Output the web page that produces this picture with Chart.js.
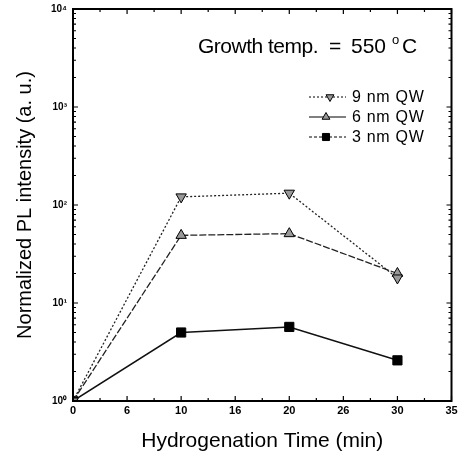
<!DOCTYPE html>
<html><head><meta charset="utf-8">
<script src="https://cdn.jsdelivr.net/npm/chart.js@4"></script>
<style>html,body{margin:0;padding:0;background:#fff}#wrap{width:459px;height:459px}</style>
</head><body><div id="wrap"><canvas id="c" width="459" height="459"></canvas></div>
<script>
const times = [0, 10, 20, 30];
const qw9 = [1, 121, 132, 18];
const qw6 = [1, 49, 51, 20];
const qw3 = [1, 5.0, 5.7, 2.6];
const seriesNames = ["9 nm QW", "6 nm QW", "3 nm QW"];
const xTickValues = [0, 5, 10, 15, 20, 25, 30, 35];
const xTickLabels = ["0", "6", "10", "16", "20", "26", "30", "35"];
const yTickValues = [1, 10, 100, 1000, 10000];
const yTickLabels = ["10\u2070", "10\u00B9", "10\u00B2", "10\u00B3", "10\u2074"];
const annotationParts = ["Growth temp.", "=", "550", "o", "C"];
const xTitle = "Hydrogenation Time (min)";
const yTitle = "Normalized PL intensity (a. u.)";

const pts = arr => arr.map((v, i) => ({x: times[i], y: v}));

const frame = {
  id: 'frame',
  afterDatasetsDraw(chart) {
    const {ctx, chartArea: a, scales: {x, y}} = chart;
    ctx.save();
    ctx.strokeStyle = '#000';
    ctx.lineWidth = 2;
    ctx.strokeRect(a.left, a.top, a.right - a.left, a.bottom - a.top);
    ctx.lineWidth = 1.2;
    ctx.beginPath();
    for (let v = 0; v <= 35; v += 2.5) {
      const px = x.getPixelForValue(v);
      const L = (v % 5 === 0) ? 5 : 3;
      ctx.moveTo(px, a.bottom); ctx.lineTo(px, a.bottom - L);
      ctx.moveTo(px, a.top); ctx.lineTo(px, a.top + L);
    }
    for (let d = 1; d <= 1000; d *= 10) {
      for (let m = 1; m <= 10; m++) {
        const py = y.getPixelForValue(d * m);
        const L = (m === 1 || m === 10) ? 5 : 3;
        ctx.moveTo(a.left, py); ctx.lineTo(a.left + L, py);
        ctx.moveTo(a.right, py); ctx.lineTo(a.right - L, py);
      }
    }
    ctx.stroke();
    // annotation
    ctx.fillStyle = '#000';
    ctx.textBaseline = 'alphabetic';
    const big = '21px "Liberation Sans", Arial, sans-serif';
    const ty = 53;
    ctx.font = big;
    ctx.letterSpacing = '-0.5px';
    ctx.fillText(annotationParts[0], 198, ty);
    ctx.letterSpacing = '0px';
    ctx.fillText(annotationParts[1], 329, ty);
    ctx.fillText(annotationParts[2], 351, ty);
    ctx.font = '13px "Liberation Sans", Arial, sans-serif';
    ctx.fillText(annotationParts[3], 392, ty - 9);
    ctx.font = big;
    ctx.fillText(annotationParts[4], 402, ty);
    // legend
    const rows = [97, 117, 137];
    const markX = [330, 326, 326];
    ctx.font = '16px "Liberation Sans", Arial, sans-serif';
    ctx.letterSpacing = '0.7px';
    ctx.textBaseline = 'middle';
    chart.data.datasets.forEach((ds, i) => {
      const yy = rows[i];
      ctx.save();
      ctx.strokeStyle = '#000';
      ctx.lineWidth = 1;
      ctx.setLineDash(ds.legendDash);
      ctx.beginPath(); ctx.moveTo(309, yy); ctx.lineTo(346, yy); ctx.stroke();
      ctx.restore();
      ctx.save();
      ctx.fillStyle = ds.pointBackgroundColor;
      ctx.strokeStyle = '#000';
      ctx.lineWidth = 1;
      Chart.helpers.drawPoint(ctx, {pointStyle: ds.pointStyle, radius: ds.pointRadius - 1.5, rotation: ds.pointRotation || 0, borderWidth: 1}, markX[i], yy);
      ctx.restore();
      ctx.fillStyle = '#000';
      ctx.fillText(ds.label, 352, yy + 1);
    });
    ctx.restore();
  }
};

new Chart(document.getElementById('c'), {
  type: 'line',
  data: {
    datasets: [
      {label: seriesNames[0], data: pts(qw9), borderColor: '#222', borderWidth: 1.3, borderDash: [2, 2], legendDash: [2, 2],
       pointStyle: 'triangle', pointRotation: 180, pointRadius: 6, pointBackgroundColor: '#999', pointBorderColor: '#000', pointBorderWidth: 1},
      {label: seriesNames[1], data: pts(qw6), borderColor: '#222', borderWidth: 1.3, borderDash: [7, 2], legendDash: [],
       pointStyle: 'triangle', pointRadius: 6, pointBackgroundColor: '#999', pointBorderColor: '#000', pointBorderWidth: 1},
      {label: seriesNames[2], data: pts(qw3), borderColor: '#111', borderWidth: 1.5, borderDash: [], legendDash: [3, 2],
       pointStyle: 'rect', pointRadius: 6.5, pointBackgroundColor: '#000', pointBorderColor: '#000', pointBorderWidth: 1}
    ]
  },
  options: {
    responsive: false,
    animation: false,
    events: [],
    layout: {padding: {left: 0, right: 7, top: 9, bottom: 0}},
    plugins: {legend: {display: false}, tooltip: {enabled: false}},
    scales: {
      x: {
        type: 'linear', min: 0, max: 35,
        afterBuildTicks: s => { s.ticks = xTickValues.map(v => ({value: v})); },
        afterFit: s => { s.height = 58; s.paddingLeft = 0; s.paddingRight = 0; },
        grid: {display: true, drawOnChartArea: false, drawTicks: false},
        border: {display: false},
        ticks: {padding: 3, color: '#000', font: {family: '"Liberation Sans Narrow", "Liberation Sans", Arial', size: 11, weight: 'bold'},
                callback: (v, i) => xTickLabels[i]},
        title: {display: true, text: xTitle, color: '#000', font: {family: '"Liberation Sans", Arial', size: 21}, padding: {top: 0, bottom: 5}}
      },
      y: {
        type: 'logarithmic', min: 1, max: 10000,
        afterBuildTicks: s => { s.ticks = yTickValues.map(v => ({value: v})); },
        afterFit: s => { s.width = 73; s.paddingTop = 0; s.paddingBottom = 0; },
        grid: {display: true, drawOnChartArea: false, drawTicks: false},
        border: {display: false},
        ticks: {padding: 6, color: '#000', font: {family: '"Liberation Sans Narrow", "Liberation Sans", Arial', size: 10, weight: 'bold'},
                callback: (v, i) => yTickLabels[i]},
        title: {display: true, text: yTitle, color: '#000', font: {family: '"Liberation Sans", Arial', size: 20}, padding: {top: 13, bottom: 0}}
      }
    }
  },
  plugins: [frame]
});
</script></body></html>
